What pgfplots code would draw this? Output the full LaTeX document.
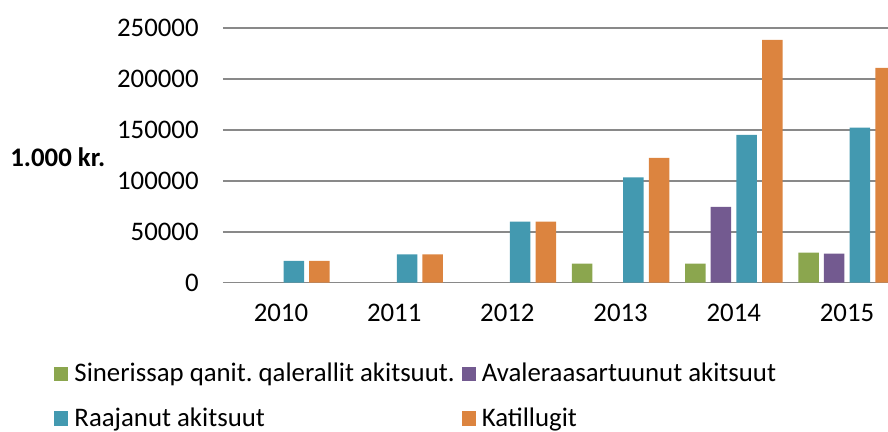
\documentclass[border=0pt]{standalone}
\usepackage{fontspec}
\setmainfont{Carlito}
\usepackage{pgfplots}
\pgfplotsset{compat=1.18}
\definecolor{cgreen}{RGB}{139,166,78}
\definecolor{cpurple}{RGB}{115,90,144}
\definecolor{cteal}{RGB}{67,153,176}
\definecolor{corange}{RGB}{220,132,63}
\definecolor{gridgray}{RGB}{137,137,137}
\frenchspacing
\begin{document}
\begin{tikzpicture}[font=\fontsize{13.4}{16}\selectfont]
\path[use as bounding box] (-111.5pt,-73.65pt) rectangle (332.5pt,142.35pt);
\begin{axis}[
  at={(0pt,0pt)}, anchor=south west,
  scale only axis, width=332.5pt, height=129.24pt,
  xmin=-0.512, xmax=5.362, ymin=-2000, ymax=252000,
  ybar, bar width=0.181,
  xtick={0,1,2,3,4,5}, xticklabels={2010,2011,2012,2013,2014,2015},
  ytick={0,50000,100000,150000,200000,250000},
  yticklabels={0,50000,100000,150000,200000,250000},
  ymajorgrids, grid style={draw=gridgray, line width=0.75pt},
  axis line style={draw=white, draw opacity=0}, tick style={draw=none}, major tick length=0pt,
  scaled y ticks=false,
  yticklabel style={anchor=east, inner sep=0pt, xshift=-12pt},
  xticklabel style={anchor=center, inner sep=0pt, yshift=-14.2pt},
  ylabel={\bfseries 1.000 kr.},
  ylabel style={rotate=-90, anchor=west, inner sep=0pt, at={(axis description cs:-0.3203,0.494)}},
  legend columns=2,
  legend cell align=left,
  legend style={draw=none, fill=none, at={(-0.254,-0.2971)}, anchor=north west, inner sep=0pt,
    nodes={inner sep=0pt, anchor=base west, text height=10pt, text depth=3pt},
    row sep=9.2pt,
    /tikz/every odd column/.append style={column sep=3pt},
    /tikz/every even column/.append style={column sep=3.5pt}},
  legend image code/.code={\fill[#1] (0pt,0.3pt) rectangle (7pt,7.5pt);},
]
\addplot[fill=cgreen, draw=none, bar shift=-0.34] coordinates {(3,18700) (4,18700) (5,29500)};
\addlegendentry{Sinerissap qanit. qalerallit akitsuut.}
\addplot[fill=cpurple, draw=none, bar shift=-0.1135] coordinates {(4,74400) (5,28500)};
\addlegendentry{Avaleraasartuunut akitsuut}
\addplot[fill=cteal, draw=none, bar shift=0.1135] coordinates {(0,21300) (1,27900) (2,59900) (3,103500) (4,145100) (5,152300)};
\addlegendentry{Raajanut akitsuut}
\addplot[fill=corange, draw=none, bar shift=0.34] coordinates {(0,21300) (1,27900) (2,59900) (3,122500) (4,238500) (5,211000)};
\addlegendentry{Katillugit}
\end{axis}
\end{tikzpicture}
\end{document}
